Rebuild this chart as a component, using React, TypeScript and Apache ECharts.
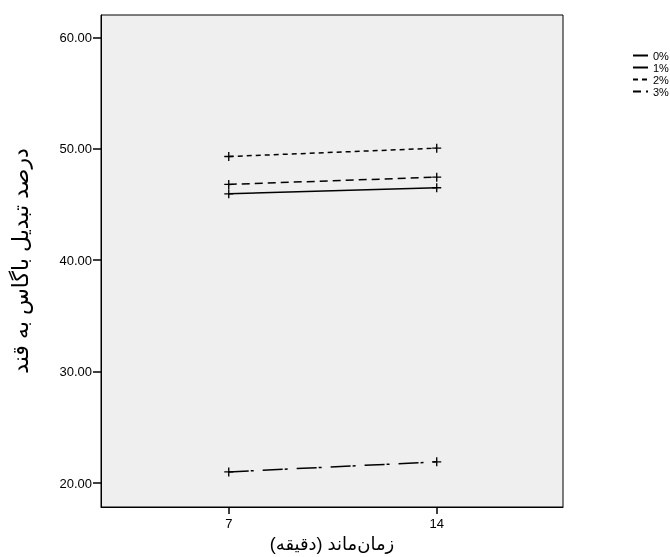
import React, { useEffect, useRef } from "react";
import * as echarts from "echarts";

const xTicks = [7, 14];
const yTicks = [20, 30, 40, 50, 60];
const seriesNames = ["0%", "1%", "2%", "3%"];
const s0 = [21.0, 21.9];
const s1 = [45.95, 46.5];
const s2 = [49.3, 50.05];
const s3 = [46.8, 47.45];
const seriesValues = [s0, s1, s2, s3];
const dashes: any[] = [[20, 2, 3, 9], "solid", [5, 4], [8, 5]];

const plus = "path://M4,0h1.4v4h4v1.4h-4v4h-1.4v-4h-4v-1.4h4z";

export default function App() {
  const ref = useRef<HTMLDivElement>(null);
  useEffect(() => {
    document.body.style.margin = "0";
    const chart = echarts.init(ref.current!, undefined, { renderer: "svg" });
    const font = "'Liberation Sans', Arial, 'DejaVu Sans', sans-serif";
    chart.setOption({
      animation: false,
      textStyle: { fontFamily: font },
      grid: {
        left: 101,
        top: 15,
        right: 107,
        bottom: 50,
        outerBoundsMode: "none",
        containLabel: false,
        show: true,
        backgroundColor: "#efefef",
        borderColor: "#000",
        borderWidth: 1,
      },
      legend: {
        orient: "vertical",
        left: 627,
        top: 45,
        itemWidth: 15,
        itemHeight: 8,
        itemGap: 1,
        textStyle: { fontSize: 11, color: "#000", fontFamily: font },
        itemStyle: { color: "transparent", borderWidth: 0 },
        data: seriesNames,
      },
      xAxis: {
        type: "value",
        min: 2.7,
        max: 18.25,
        name: "زمان‌ماند (دقیقه)",
        nameLocation: "middle",
        nameGap: 28,
        nameTextStyle: { fontSize: 18, color: "#000", fontFamily: font },
        axisLine: { show: true, onZero: false, lineStyle: { color: "#000", width: 1 } },
        axisTick: { show: true, length: 7, customValues: xTicks, lineStyle: { color: "#000", width: 1.5 } },
        axisLabel: { customValues: xTicks, color: "#000", fontSize: 13, margin: 10 },
        splitLine: { show: false },
      },
      yAxis: {
        type: "value",
        min: 17.85,
        max: 62,
        name: "درصد تبدیل باگاس به قند",
        nameLocation: "middle",
        nameRotate: 90,
        nameGap: 70,
        nameTextStyle: { fontSize: 22, color: "#000", fontFamily: font },
        axisLine: { show: true, onZero: false, lineStyle: { color: "#000", width: 1 } },
        axisTick: { show: true, length: 8, customValues: yTicks, lineStyle: { color: "#000", width: 1.5 } },
        axisLabel: {
          customValues: yTicks,
          color: "#000",
          fontSize: 13,
          margin: 9,
          formatter: (v: number) => v.toFixed(2),
        },
        splitLine: { show: false },
      },
      series: seriesNames.map((n, i) => ({
        name: n,
        type: "line",
        data: xTicks.map((x, j) => [x, seriesValues[i][j]]),
        symbol: plus,
        symbolSize: 9,
        itemStyle: { color: "#000" },
        lineStyle: { color: "#000", width: 1.5, type: dashes[i] },
      })),
    });
    return () => chart.dispose();
  }, []);
  return (
    <div
      ref={ref}
      style={{ position: "fixed", left: 0, top: 0, width: 670, height: 557 }}
    />
  );
}
